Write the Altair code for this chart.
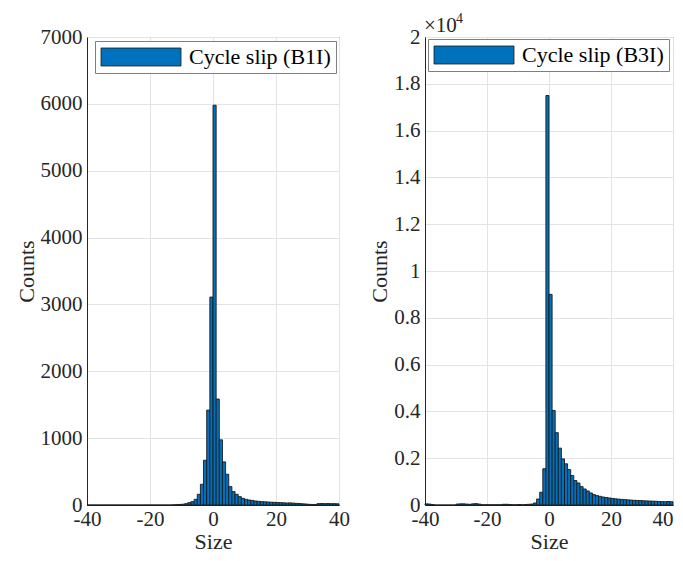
import altair as alt
import pandas as pd

# ---------------- data (bin start, counts) ----------------
bin_starts = list(range(-40, 40))

b1i_counts = [
    0, 0, 0, 0, 0, 0, 0, 0, 0, 0,          # -40 .. -31
    0, 0, 0, 0, 0, 0, 0, 0, 0, 0,          # -30 .. -21
    0, 0, 0, 0, 0, 0, 0,                   # -20 .. -14
    2, 5, 8, 12, 20, 35, 50, 85, 160, 310, 670, 1420, 3110,   # -13 .. -1
    5980, 1585, 975, 645, 460, 275, 200, 160, 125, 100,       # 0 .. 9
    85, 75, 68, 60, 55, 50, 48, 45, 42, 40,                   # 10 .. 19
    38, 35, 33, 30, 32, 28, 25, 22, 18, 15,                   # 20 .. 29
    10, 8, 8, 20, 22, 20, 22, 20, 20, 18,                     # 30 .. 39
]

b3i_counts = [
    50, 40, 20, 0, 0, 0, 0, 0, 0, 0,                          # -40 .. -31
    40, 50, 50, 40, 30, 50, 60, 40, 10, 10,                   # -30 .. -21
    10, 10, 10, 10, 10,                                       # -20 .. -16
    30, 30, 20, 10, 10, 20, 10, 20, 30, 40, 85, 257, 545, 1550, 17500,  # -15 .. -1
    9000, 4040, 3090, 2430, 1970, 1760, 1515, 1260, 1045, 940,  # 0 .. 9
    785, 685, 600, 515, 445, 400, 370, 340, 320, 300,           # 10 .. 19
    280, 265, 250, 240, 230, 220, 210, 200, 195, 190,           # 20 .. 29
    180, 175, 170, 165, 160, 150, 145, 140, 150, 140,           # 30 .. 39
]

series_names = ["Cycle slip (B1I)", "Cycle slip (B3I)"]
x_ticks = [-40, -20, 0, 20, 40]
y_ticks_left = [0, 1000, 2000, 3000, 4000, 5000, 6000, 7000]
y_ticks_right = [0, 0.2, 0.4, 0.6, 0.8, 1, 1.2, 1.4, 1.6, 1.8, 2]
exponent_text = ["×10", "4"]

FONT = "Liberation Serif"
BLUE = "#0072BD"
DARK = "#262626"
# wide rectangle swatch, drawn to the right of the symbol's anchor
LEGEND_PATH = "M-1,-0.9L7,-0.9L7,0.9L-1,0.9Z"

df = pd.DataFrame({
    "start": bin_starts,
    "end": [s + 1 for s in bin_starts],
    "b1i": b1i_counts,
    "b3i": b3i_counts,
})

H = 468


def panel(col, name, divisor, ymax, yticks, legend_x, legend_y, width, flush_last):
    base = alt.Chart(df).transform_calculate(
        yv=f"datum.{col} / {divisor}", series=f"'{name}'"
    )
    x_axis_kw = dict(values=x_ticks, title="Size", labelExpr="'' + datum.value",
                     labelFlush=False)
    if flush_last:
        x_axis_kw["labelAlign"] = {"condition": {"test": "datum.value == 40", "value": "right"},
                                   "value": "center"}
    bars = base.mark_bar(stroke="#1a1a1a", strokeWidth=0.9, opacity=1).encode(
        x=alt.X(
            "start:Q",
            scale=alt.Scale(domain=[-40, 40], nice=False, zero=False),
            axis=alt.Axis(**x_axis_kw),
        ),
        x2="end:Q",
        y=alt.Y(
            "yv:Q",
            scale=alt.Scale(domain=[0, ymax], nice=False),
            axis=alt.Axis(values=yticks, title="Counts", format="~r"),
        ),
        y2=alt.datum(0),
        color=alt.Color(
            "series:N",
            scale=alt.Scale(domain=[name], range=[BLUE]),
            legend=alt.Legend(
                title=None,
                orient="none",
                legendX=legend_x,
                legendY=legend_y,
                symbolType=LEGEND_PATH,
                symbolSize=400,
                symbolStrokeColor="#1a1a1a",
                symbolStrokeWidth=0.8,
                symbolOpacity=1,
                labelFont=FONT,
                labelFontSize=22,
                labelColor="black",
                labelOffset=67,
                labelLimit=400,
                labelExpr="datum.label + '\u00a0\u00a0'",
                strokeColor="#7f7f7f",
                fillColor="white",
                padding=5,
            ),
        ),
    )
    return bars.properties(width=width, height=H)


left = panel("b1i", series_names[0], 1, 7000, y_ticks_left, 8, 4, 252, False)

right_bars = panel("b3i", series_names[1], 10000, 2, y_ticks_right, 3, 2, 248, True)
anno = alt.Chart(pd.DataFrame({"a": [0]}))
times = anno.mark_text(font=FONT, fontSize=21, align="left", baseline="top",
                       color=DARK).encode(
    x=alt.value(-1), y=alt.value(-22), text=alt.value(exponent_text[0]))
power = anno.mark_text(font=FONT, fontSize=14, align="left", baseline="top",
                       color=DARK).encode(
    x=alt.value(31), y=alt.value(-25), text=alt.value(exponent_text[1]))
right = alt.layer(right_bars, times, power)

chart = (
    alt.hconcat(left, right, spacing=18)
    .resolve_scale(color="independent")
    .resolve_legend(color="independent")
    .properties(padding={"left": 6, "top": 3, "right": 0, "bottom": 0})
    .configure_axis(
        labelFont=FONT, labelFontSize=21, labelColor=DARK,
        titleFont=FONT, titleFontSize=22, titleFontWeight="normal", titleColor=DARK,
        domainColor=DARK, domainWidth=1, gridColor="#e3e3e3", gridWidth=1,
        ticks=False,
    )
    .configure_axisX(labelPadding=3, titlePadding=2)
    .configure_axisY(labelPadding=5, titlePadding=2)
    .configure_view(stroke=DARK, strokeWidth=1)
)

chart.save("out.html", embed_options={"renderer": "svg", "actions": False})
